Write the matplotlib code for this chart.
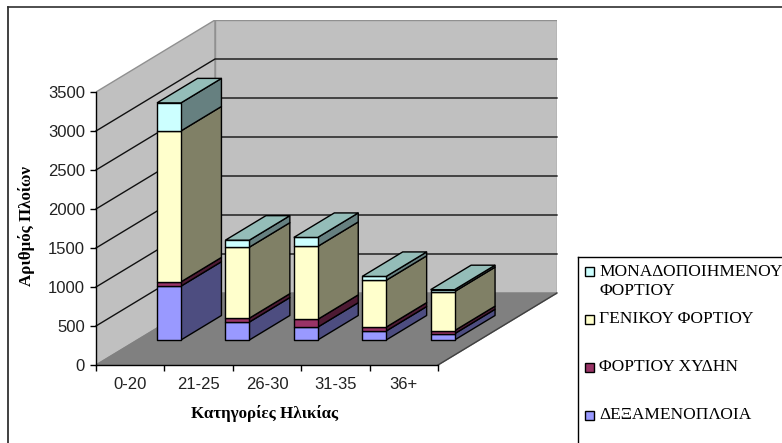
import matplotlib
matplotlib.use("Agg")
import matplotlib.pyplot as plt
from matplotlib.patches import Polygon, Rectangle
from matplotlib.lines import Line2D

categories = ["0-20", "21-25", "26-30", "31-35", "36+"]
tankers = [690, 230, 165, 115, 80]
bulk = [55, 50, 100, 50, 40]
general = [1935, 910, 935, 600, 500]
unitized = [360, 90, 115, 50, 25]
y_ticks = [0, 500, 1000, 1500, 2000, 2500, 3000, 3500]

series_values = [tankers, bulk, general, unitized]
front_colors = ["#9999FF", "#993366", "#FFFFCC", "#CCFFFF"]
side_colors = ["#4D4D80", "#4D1A33", "#808066", "#668080"]
top_color = "#94BDB8"
legend_labels = ["ΜΟΝΑΔΟΠΟΙΗΜΕΝΟΥ\nΦΟΡΤΙΟΥ", "ΓΕΝΙΚΟΥ ΦΟΡΤΙΟΥ", "ΦΟΡΤΙΟΥ ΧΥΔΗΝ", "ΔΕΞΑΜΕΝΟΠΛΟΙΑ"]
legend_colors = ["#CCFFFF", "#FFFFCC", "#993366", "#9999FF"]
legend_y = [271, 319, 367, 415]
legend_text_y = [281.5, 319, 367, 415]

W, H = 782, 443
fig = plt.figure(figsize=(W / 100, H / 100), dpi=100, facecolor="white")

# pixels of the plot
L, R, B, T = 96, 557, 365, 20
slot = 68.4
unit = 78 / 1000
ax = fig.add_axes([L / W, 1 - B / H, (R - L) / W, (B - T) / H])
ax.set_xlim(0, (R - L) / slot)
ax.set_ylim(0, (B - T) / unit)
ax.patch.set_visible(False)

n = len(categories)
ymax = y_ticks[-1]
DX = 119 / slot      # full depth offset in category units
DY = 72 / unit       # full depth offset in value units


def P(x, v, d=0.0):
    return (x + DX * d, v + DY * d)


grey = "#C0C0C0"
edge = "#909090"
ax.add_patch(Polygon([P(0, 0), P(0, ymax), P(0, ymax, 1), P(0, 0, 1)], fc=grey, ec=edge, lw=1, zorder=1))
ax.add_patch(Polygon([P(0, 0, 1), P(0, ymax, 1), P(n, ymax, 1), P(n, 0, 1)], fc=grey, ec=edge, lw=1, zorder=1))
ax.add_patch(Polygon([P(0, 0), P(n, 0), P(n, 0, 1), P(0, 0, 1)], fc="#808080", ec="#808080", lw=1, zorder=2))
ax.plot(*zip(P(n, 0), P(n, 0, 1)), color="#404040", lw=1, zorder=2, clip_on=False)

for v in y_ticks[1:-1]:
    pts = [P(0, v), P(0, v, 1), P(n, v, 1)]
    ax.plot(*zip(*pts), color="#101010", lw=1.0, zorder=2, clip_on=False)

# bars
gap, width = 0.288, 0.35
d0, d1 = 25 / 72, 49.5 / 72
for i in range(n):
    x0, x1 = i + gap, i + gap + width
    base = 0
    for vals, fc, sc in zip(series_values, front_colors, side_colors):
        top = base + vals[i]
        ax.add_patch(Polygon([P(x1, base, d0), P(x1, base, d1), P(x1, top, d1), P(x1, top, d0)],
                             fc=sc, ec="black", lw=1, zorder=3 + i, joinstyle="round", clip_on=False))
        ax.add_patch(Polygon([P(x0, base, d0), P(x1, base, d0), P(x1, top, d0), P(x0, top, d0)],
                             fc=fc, ec="black", lw=1, zorder=3 + i, joinstyle="round", clip_on=False))
        base = top
    ax.add_patch(Polygon([P(x0, base, d0), P(x1, base, d0), P(x1, base, d1), P(x0, base, d1)],
                         fc=top_color, ec="black", lw=1, zorder=3 + i, clip_on=False))

# axes
for s in ("top", "right"):
    ax.spines[s].set_visible(False)
ax.spines["left"].set_bounds(0, ymax)
ax.spines["bottom"].set_bounds(0, n)
for s in ("left", "bottom"):
    ax.spines[s].set_linewidth(1)
    ax.spines[s].set_color("black")
    ax.spines[s].set_zorder(20)

sans = "Liberation Sans"
serif = "Liberation Serif"
ax.set_yticks(y_ticks)
ax.set_yticklabels([str(v) for v in y_ticks], fontfamily=sans, fontsize=12, color="#222222")
ax.tick_params(axis="y", length=4.3, width=1, pad=3.6, color="black")
ax.set_xticks(range(n + 1))
ax.set_xticklabels([""] * (n + 1))
ax.tick_params(axis="x", which="major", length=4.3, width=1, color="black")
ax.set_xticks([i + 0.5 for i in range(n)], minor=True)
ax.set_xticklabels(categories, minor=True, fontfamily=sans, fontsize=12, color="#222222")
ax.tick_params(axis="x", which="minor", length=0, pad=8.5)

fig.text(265 / W, 1 - 413 / H, "Κατηγορίες Ηλικίας", family=serif, weight="bold",
         fontsize=12.2, ha="center", va="center", color="black")
fig.text(27 / W, 1 - 226 / H, "Αριθμός Πλοίων", family=serif, weight="bold",
         fontsize=12.2, ha="center", va="center", rotation=90, color="black")

# outer frame: only top and left edges are inside the picture
fig.add_artist(Line2D([8 / W, 8 / W], [0, 1 - 6.5 / H], color="#202020", lw=1.2))
fig.add_artist(Line2D([8 / W, 1], [1 - 6.5 / H, 1 - 6.5 / H], color="#303030", lw=1.2))

# legend
fig.add_artist(Line2D([578 / W, 578 / W], [0, 1 - 256.5 / H], color="black", lw=1))
fig.add_artist(Line2D([578 / W, 1], [1 - 256.5 / H, 1 - 256.5 / H], color="black", lw=1))
for lab, col, sy, ty in zip(legend_labels, legend_colors, legend_y, legend_text_y):
    fig.add_artist(Rectangle((584.5 / W, 1 - (sy + 4.5) / H), 9.5 / W, 9 / H, fc=col, ec="black", lw=1,
                             transform=fig.transFigure))
    fig.text(599 / W, 1 - ty / H, lab, family=serif, fontsize=12.5, ha="left", va="center",
             color="black", linespacing=1.33)

fig.savefig("out.png", dpi=100)
